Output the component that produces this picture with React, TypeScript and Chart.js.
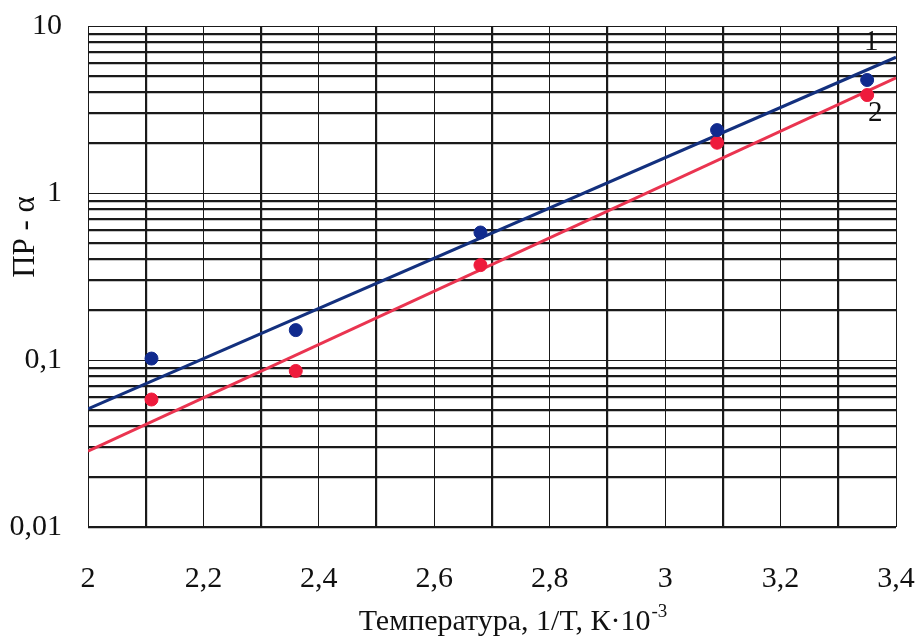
import React, { useEffect, useRef } from 'react';
import { Chart, registerables } from 'chart.js';

Chart.register(...registerables);

// ---- data ----
const xGridValues = [2, 2.1, 2.2, 2.3, 2.4, 2.5, 2.6, 2.7, 2.8, 2.9, 3, 3.1, 3.2, 3.3, 3.4];
const xLabelValues = [2, 2.2, 2.4, 2.6, 2.8, 3, 3.2, 3.4];
const yDecades = [0.01, 0.1, 1, 10];
const yMinorSteps = [2, 3, 4, 5, 6, 7, 8, 9];

const pointsX = [2.11, 2.36, 2.68, 3.09, 3.35];
const series1Y = [0.102, 0.151, 0.58, 2.38, 4.75];
const series2Y = [0.058, 0.086, 0.37, 2.0, 3.86];

const fitX = [2, 3.4];
const fit1Y = [0.051, 6.5];
const fit2Y = [0.0285, 4.9];

const curveLabels = ['1', '2'];
const curveLabelX = [3.357, 3.364];
const curveLabelY = [8.0, 3.0];

const yTitle = 'ПР - α';
const xTitleMain = 'Температура, 1/T, К·10';
const xTitleSup = '-3';

const BLUE_PT = '#102a8e';
const BLUE_LN = '#13307e';
const RED_PT = '#ee1b3c';
const RED_LN = '#ea3450';
const FONT = "'Liberation Serif', 'Times New Roman', serif";

function buildYGrid(): number[] {
  const out: number[] = [];
  for (let i = 0; i < yDecades.length; i++) {
    out.push(yDecades[i]);
    if (i < yDecades.length - 1) {
      for (const m of yMinorSteps) out.push(+(yDecades[i] * m).toPrecision(3));
    }
  }
  return out;
}

const isDecade = (v: number) => yDecades.some((d) => Math.abs(d - v) / d < 1e-6);
const isXLabel = (v: number) => xLabelValues.some((d) => Math.abs(d - v) < 1e-6);
const fmt = (v: number) => String(+v.toFixed(2)).replace('.', ',');

const textPlugin = {
  id: 'textPlugin',
  afterDraw(chart: any) {
    const ctx = chart.ctx;
    const xs = chart.scales.x;
    const ys = chart.scales.y;
    ctx.save();
    ctx.fillStyle = '#111';
    // curve labels
    ctx.font = `29px ${FONT}`;
    ctx.textAlign = 'center';
    ctx.textBaseline = 'middle';
    curveLabels.forEach((t, i) => {
      ctx.fillText(t, xs.getPixelForValue(curveLabelX[i]), ys.getPixelForValue(curveLabelY[i]));
    });
    // y title
    ctx.save();
    ctx.translate(26, 237);
    ctx.rotate(-Math.PI / 2);
    ctx.font = `31px ${FONT}`;
    ctx.textAlign = 'center';
    ctx.textBaseline = 'middle';
    ctx.fillText(yTitle, 0, 0);
    ctx.restore();
    // x title with superscript
    ctx.font = `30px ${FONT}`;
    const w1 = ctx.measureText(xTitleMain).width;
    ctx.font = `19px ${FONT}`;
    const w2 = ctx.measureText(xTitleSup).width;
    const total = w1 + w2 + 1;
    const cx = 513;
    const startX = cx - total / 2;
    ctx.textAlign = 'left';
    ctx.textBaseline = 'alphabetic';
    ctx.font = `30px ${FONT}`;
    ctx.fillText(xTitleMain, startX, 630);
    ctx.font = `19px ${FONT}`;
    ctx.fillText(xTitleSup, startX + w1 + 1, 617);
    ctx.restore();
  },
};

export default function App() {
  const ref = useRef<HTMLCanvasElement | null>(null);

  useEffect(() => {
    document.body.style.margin = '0';
    const canvas = ref.current;
    if (!canvas) return;
    const yGrid = buildYGrid();

    const chart = new Chart(canvas, {
      type: 'scatter',
      data: {
        datasets: [
          {
            type: 'line',
            data: fitX.map((x, i) => ({ x, y: fit1Y[i] })),
            borderColor: BLUE_LN,
            borderWidth: 3,
            pointRadius: 0,
            fill: false,
            order: 2,
          } as any,
          {
            type: 'line',
            data: fitX.map((x, i) => ({ x, y: fit2Y[i] })),
            borderColor: RED_LN,
            borderWidth: 3,
            pointRadius: 0,
            fill: false,
            order: 2,
          } as any,
          {
            data: pointsX.map((x, i) => ({ x, y: series1Y[i] })),
            backgroundColor: BLUE_PT,
            borderColor: BLUE_PT,
            pointRadius: 6.5,
            order: 1,
          },
          {
            data: pointsX.map((x, i) => ({ x, y: series2Y[i] })),
            backgroundColor: RED_PT,
            borderColor: RED_PT,
            pointRadius: 6.5,
            order: 1,
          },
        ],
      },
      options: {
        responsive: false,
        animation: false,
        layout: { padding: { top: 26, right: 23, left: 0, bottom: 0 } },
        plugins: {
          legend: { display: false },
          tooltip: { enabled: false },
        },
        scales: {
          x: {
            type: 'linear',
            min: 2,
            max: 3.4,
            afterBuildTicks: (scale: any) => {
              scale.ticks = xGridValues.map((v) => ({ value: v }));
            },
            afterFit: (scale: any) => {
              scale.height = 112;
              scale.paddingLeft = 0;
              scale.paddingRight = 0;
            },
            ticks: {
              autoSkip: false,
              maxRotation: 0,
              padding: 34,
              color: '#111',
              font: { family: FONT, size: 30 },
              callback: (v: any) => (isXLabel(Number(v)) ? fmt(Number(v)) : ''),
            },
            grid: {
              drawTicks: false,
              color: '#1a1a1a',
              lineWidth: (c: any) => {
                const v = c.tick ? c.tick.value : 0;
                return isXLabel(v) ? 1 : 2.2;
              },
            },
            border: { display: false },
          },
          y: {
            type: 'logarithmic',
            min: 0.01,
            max: 10,
            afterBuildTicks: (scale: any) => {
              scale.ticks = yGrid.map((v) => ({ value: v }));
            },
            afterFit: (scale: any) => {
              scale.width = 88;
              scale.paddingTop = 0;
              scale.paddingBottom = 0;
            },
            ticks: {
              autoSkip: false,
              padding: 26,
              color: '#111',
              font: { family: FONT, size: 30 },
              callback: (v: any) => (isDecade(Number(v)) ? fmt(Number(v)) : ''),
            },
            grid: {
              drawTicks: false,
              color: '#1a1a1a',
              lineWidth: (c: any) => {
                const v = c.tick ? c.tick.value : 0;
                if (Math.abs(v - 0.01) < 1e-9) return 2.2;
                return isDecade(v) ? 1 : 2.2;
              },
            },
            border: { display: false },
          },
        },
      },
      plugins: [textPlugin],
    } as any);

    return () => chart.destroy();
  }, []);

  return <canvas ref={ref} width={919} height={639} style={{ display: 'block' }} />;
}
